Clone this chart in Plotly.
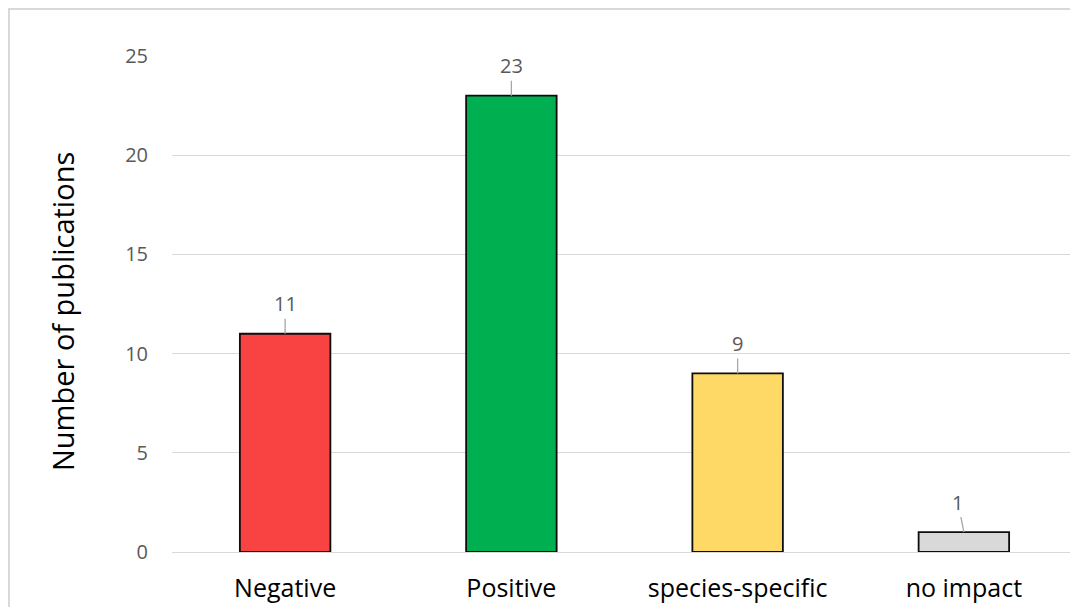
import plotly.graph_objects as go

categories = ["Negative", "Positive", "species-specific", "no impact"]
values = [11, 23, 9, 1]
colors = ["#F94343", "#00B050", "#FFD966", "#D9D9D9"]
label_dx = [0, 0, 0, -6]
y_title = "Number of publications"

FONT = "Open Sans, Lato, sans-serif"
W, H = 1070, 599          # page body adds an 8px offset
L, R, T, B = 164, 1, 48, 55
pw, ph = W - L - R, H - T - B

fig = go.Figure()
fig.add_trace(go.Bar(
    x=categories, y=values, width=0.40,
    marker=dict(color=colors, line=dict(color="#0D0D0D", width=1.8)),
    showlegend=False, hoverinfo="skip",
))

for c, v, dx in zip(categories, values, label_dx):
    fig.add_annotation(
        x=c, y=v, text=str(v), showarrow=True, arrowhead=0, arrowwidth=1.3,
        arrowcolor="#A6A6A6", ax=dx, ay=-30, standoff=0,
        font=dict(family=FONT, size=20, color="#595959"),
    )

# y-axis title as annotation (slightly below plot centre, as in the original)
fig.add_annotation(
    xref="paper", yref="paper", x=(54 - L) / pw, y=(H - B - 304) / ph,
    text=y_title, textangle=-90, showarrow=False,
    xanchor="center", yanchor="middle",
    font=dict(family=FONT, size=29, color="#000000"),
)

# outer chart frame
fig.add_shape(type="rect", xref="paper", yref="paper",
              x0=(1 - L) / pw, x1=1.05, y0=-0.3, y1=(H - B - 1) / ph,
              line=dict(color="#D9D9D9", width=2), fillcolor="rgba(0,0,0,0)", layer="below")

fig.update_layout(
    width=W, height=H,
    margin=dict(l=L, r=R, t=T, b=B),
    paper_bgcolor="white", plot_bgcolor="white",
    font=dict(family=FONT, color="#595959"),
    xaxis=dict(
        showgrid=False, showline=False, zeroline=False, ticks="",
        tickfont=dict(size=25, color="#000000"), ticklabelstandoff=19,
    ),
    yaxis=dict(
        range=[0, 25], dtick=5, showgrid=True, gridcolor="#D9D9D9", gridwidth=1,
        zeroline=True, zerolinecolor="#D9D9D9", zerolinewidth=1.3,
        showline=False, ticks="", tickfont=dict(size=20, color="#595959"),
        ticklabelstandoff=23,
    ),
)

fig.write_html("out.html")
